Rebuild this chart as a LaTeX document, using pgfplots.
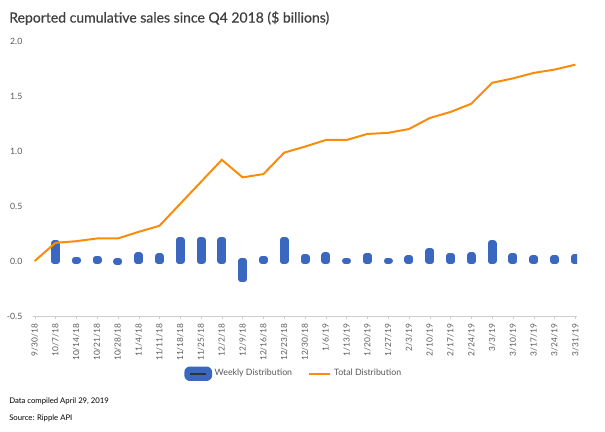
\documentclass[border=0pt]{standalone}
\usepackage{fontspec}
\setmainfont{Lato}
\newfontfamily\titlefont{Lato}[FakeBold=0.6]
\usepackage{pgfplots}
\pgfplotsset{compat=1.18}
\definecolor{barblue}{HTML}{3A67BF}
\definecolor{lineorange}{HTML}{FA8C0A}
\definecolor{txtgray}{HTML}{595959}
\definecolor{titlegray}{HTML}{404040}
\begin{document}
\begin{tikzpicture}
\useasboundingbox (-24.75pt,-86.25pt) rectangle (429pt,237pt);
\begin{axis}[
  scale only axis,
  width=408pt, height=206.25pt,
  xmin=-0.08, xmax=26.08,
  ymin=-0.5, ymax=2.0,
  ytick={-0.5,0,0.5,1,1.5,2},
  /pgf/number format/fixed,
  /pgf/number format/fixed zerofill,
  /pgf/number format/precision=1,
  /pgf/number format/assume math mode=true,
  xtick={0,...,26},
  xticklabels={9/30/18,10/7/18,10/14/18,10/21/18,10/28/18,11/4/18,11/11/18,11/18/18,11/25/18,12/2/18,12/9/18,12/16/18,12/23/18,12/30/18,1/6/19,1/13/19,1/20/19,1/27/19,2/3/19,2/10/19,2/17/19,2/24/19,3/3/19,3/10/19,3/17/19,3/24/19,3/31/19},
  xticklabel style={rotate=90, anchor=east, font=\fontsize{6.3pt}{7pt}\selectfont, text=txtgray},
  yticklabel style={font=\fontsize{6.5pt}{7pt}\selectfont, text=txtgray, xshift=-2pt},
  axis x line=bottom, axis y line=left,
  x axis line style={draw=gray!40, -},
  y axis line style={draw=none},
  ytick style={draw=none},
  xtick style={draw=gray!40},
  tick align=outside,
  major tick length=2.5pt,
  legend style={at={(0.48,-0.21)}, anchor=center, draw=none, legend columns=2,
    font=\fontsize{6.6pt}{7pt}\selectfont, text=txtgray,
    /tikz/every even column/.append style={column sep=10pt}},
]
\addplot[ybar, bar width=2pt, bar shift=0pt, fill=barblue, draw=barblue, line width=4.75pt, line join=round,
  legend image code/.code={
    \fill[barblue, rounded corners=1.5pt] (0pt,-3pt) rectangle (16pt,3pt);
    \draw[black!80, line width=1.2pt] (2pt,0pt) -- (14pt,0pt);
  }] coordinates {
(1,0.16) (2,0.01) (3,0.02) (4,-0.01) (5,0.05) (6,0.04) (7,0.19) (8,0.19) (9,0.19)
(10,-0.165) (11,0.02) (12,0.19) (13,0.035) (14,0.05) (15,0.003) (16,0.045) (17,0.003)
(18,0.025) (19,0.09) (20,0.045) (21,0.05) (22,0.16) (23,0.045) (24,0.025) (25,0.025) (26,0.035)
};
\addlegendentry{Weekly Distribution}
\addplot[lineorange, line width=1.5pt, mark=none,
  legend image code/.code={\draw[lineorange, line width=1.5pt] (0pt,0pt) -- (16pt,0pt);}] coordinates {
(0,0) (1,0.165) (2,0.18) (3,0.205) (4,0.205) (5,0.265) (6,0.32) (7,0.52) (8,0.72) (9,0.92)
(10,0.76) (11,0.79) (12,0.985) (13,1.04) (14,1.10) (15,1.10) (16,1.155) (17,1.165) (18,1.20)
(19,1.30) (20,1.355) (21,1.43) (22,1.62) (23,1.66) (24,1.71) (25,1.74) (26,1.785)
};
\addlegendentry{Total Distribution}
\end{axis}
\node[anchor=west, text=titlegray, font=\titlefont\fontsize{10.5pt}{12pt}\selectfont, inner sep=0pt] at (-18pt,223.5pt) {Reported cumulative sales since Q4 2018 (\$ billions)};
\node[anchor=west, text=black, font=\fontsize{5.8pt}{7pt}\selectfont, inner sep=0pt] at (-18pt,-63.75pt) {Data compiled April 29, 2019};
\node[anchor=west, text=black, font=\fontsize{5.8pt}{7pt}\selectfont, inner sep=0pt] at (-18pt,-76.5pt) {Source: Ripple API};
\end{tikzpicture}
\end{document}
